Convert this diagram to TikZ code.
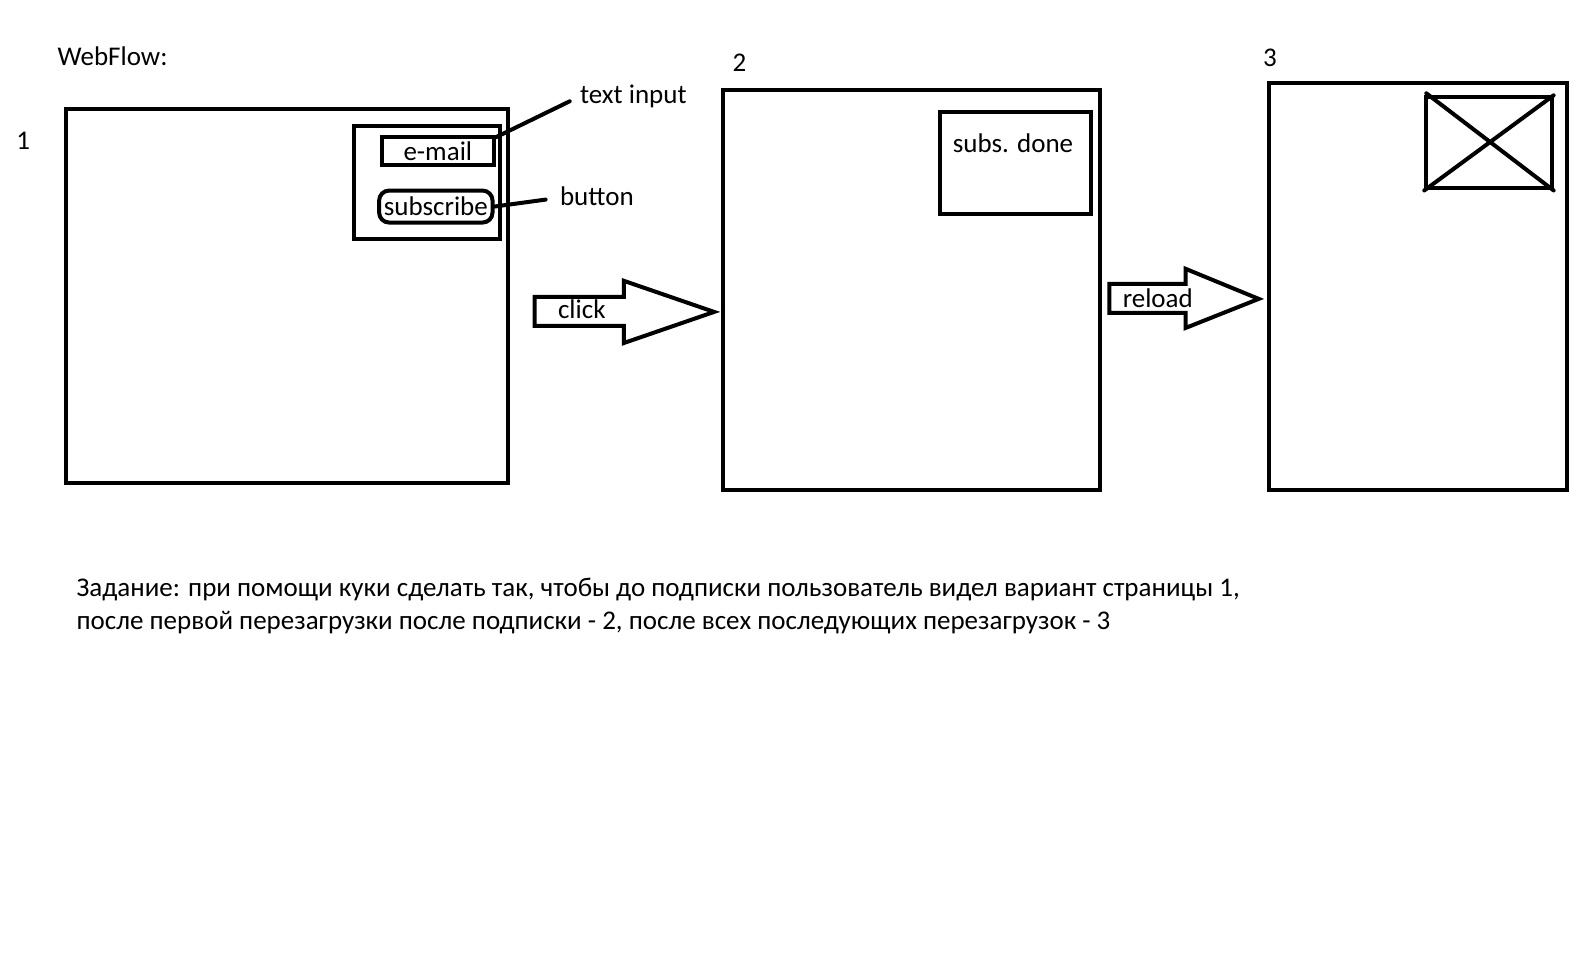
\documentclass[tikz,border=0pt]{standalone}
\usepackage{fontspec}
\setmainfont{Carlito}
\usetikzlibrary{positioning, calc}
\tikzstyle{page} = [rectangle, draw=black, line width=2pt, anchor=north west, inner sep=0pt]
\tikzstyle{widget} = [rectangle, draw=black, line width=2pt, inner sep=0pt]
\tikzstyle{txt} = [inner sep=0pt, anchor=base west]
\tikzstyle{lead} = [line width=2pt, line cap=round]
\tikzstyle{blockarrow} = [line width=2pt, line join=miter]

\begin{document}
\begin{tikzpicture}[x=0.5015pt, y=-0.5015pt, font=\fontsize{13.5pt}{17pt}\selectfont]
  \useasboundingbox (0,0) rectangle (1571.3,970.1);

  % page 1
  \node[txt] (title) at (57,65) {WebFlow:};
  \node[txt] (n1) at (16,149) {1};
  \node[page, minimum width=220.7pt, minimum height=186.6pt] (page1) at (64,107) {};
  \node[page, minimum width=73.2pt, minimum height=56.2pt] (form) at (351,124) {};
  \node[widget, minimum width=55.7pt, minimum height=13.6pt, anchor=north west] (email) at (379,135) {e-mail~};
  \node[widget, rounded corners=5pt, minimum width=56.7pt, minimum height=16pt, anchor=north west] (subscr) at (376,188) {subscribe};
  \node[txt] (lbltext) at (578,103) {text input};
  \node[txt] (lblbtn) at (558,205) {button};
  \draw[lead] ($(email.north east)+(0,2)$) -- ($(lbltext.base west)+(-10,-2)$);
  \draw[lead] (subscr.east) -- ($(lblbtn.base west)+(-14,-6)$);

  % click
  \draw[blockarrow] (533,296) -- (622,296) -- (622,280) -- (712,311) -- (622,342) -- (622,325) -- (533,325) -- cycle;
  \node[txt] (click) at (556,318) {click};

  % page 2
  \node[txt] (n2) at (730,71) {2};
  \node[page, minimum width=188.6pt, minimum height=200.1pt] (page2) at (719,88) {};
  \node[page, minimum width=75.7pt, minimum height=50.7pt] (done) at (935,110) {};
  \node[inner sep=0pt, anchor=base] (donetxt) at (1010,152) {subs. done};

  % reload
  \draw[blockarrow] (1106,283) -- (1182,283) -- (1182,268) -- (1255,298) -- (1182,327) -- (1182,312) -- (1106,312) -- cycle;
  \node[txt] (reload) at (1119,307) {reload};

  % page 3
  \node[txt] (n3) at (1259,66) {3};
  \node[page, minimum width=149pt, minimum height=203.6pt] (page3) at (1263,81) {};
  \node[page, minimum width=62.7pt, minimum height=45.6pt] (img) at (1420,95) {};
  \draw[lead] ($(img.north west)+(2,-2)$) -- (img.south east);
  \draw[lead] (img.north east) -- (img.south west);

  % task
  \node[txt] (task1) at (76,595) {Задание: при помощи куки сделать так, чтобы до подписки пользователь видел вариант страницы 1,};
  \node[txt] (task2) at (76,628) {после первой перезагрузки после подписки - 2, после всех последующих перезагрузок - 3};
\end{tikzpicture}
\end{document}
